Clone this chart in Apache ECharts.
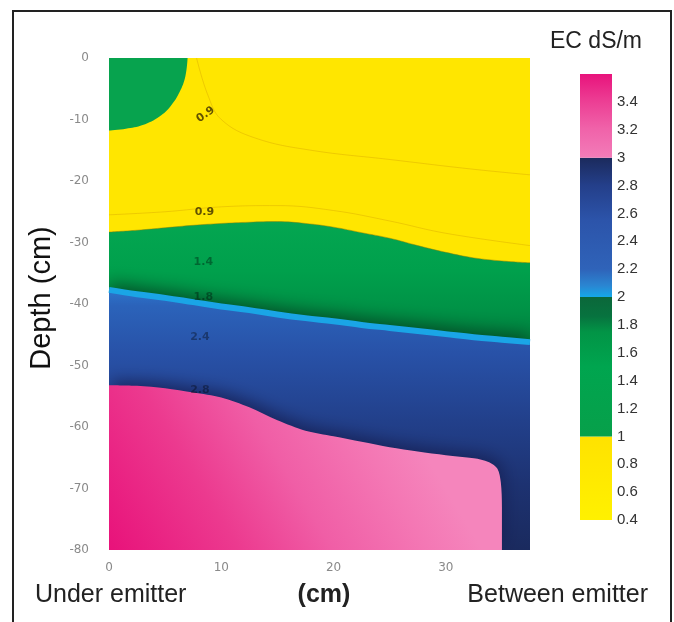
<!DOCTYPE html>
<html>
<head>
<meta charset="UTF-8">
<title>EC dS/m - soil profile</title>
<script src="https://cdn.jsdelivr.net/npm/echarts@6/dist/echarts.min.js"></script>
<style>
    body { margin: 0; background: #fff; }
    #chart { width: 674px; height: 622px; }
</style>
</head>
<body>
<div id="chart"></div>
<script>
    // distance from emitter (cm) where the contour boundaries were read
    const xs = [0, 2.5, 5, 7.5, 10, 12.5, 15, 17.5, 20, 22.5, 25, 27.5, 30, 32.5, 35, 37.5];
    // depth of EC = 1 boundary (yellow above, green below)
    const edge1 = [-28.3, -28.0, -27.6, -27.2, -26.9, -26.7, -26.6, -26.9, -27.5, -28.4, -29.3, -30.5, -31.6, -32.5, -33.0, -33.3];
    // depth of EC = 2 boundary (green above, blue below)
    const edge2 = [-37.7, -38.4, -39.0, -39.7, -40.4, -41.0, -41.7, -42.3, -42.8, -43.4, -43.9, -44.4, -44.9, -45.4, -45.8, -46.2];
    // EC = 3 boundary (pink below), turns down to the bottom near x = 35
    const edge3X = [0, 2.5, 5, 7.5, 10, 12.5, 15, 17.5, 20, 22.5, 25, 27.5, 30, 32.5, 33.8, 34.6, 34.9, 35.0, 35.0];
    const edge3Y = [-53.2, -53.3, -53.7, -54.4, -55.2, -56.8, -58.9, -60.6, -61.5, -62.4, -63.3, -64.0, -64.6, -65.1, -65.7, -66.8, -69.0, -73.0, -80.0];
    // EC > 1 patch at the surface under the emitter
    const blobX = [0, 1.5, 3, 4.5, 5.5, 6.3, 6.8, 7.0];
    const blobY = [-11.8, -11.5, -10.9, -9.5, -7.8, -5.5, -3.0, 0];
    // faint 0.9 isolines inside the yellow zone
    const iso1X = [7.8, 8.8, 10, 13, 18, 25, 32, 37.5];
    const iso1Y = [0, -6, -10, -13, -15, -16.5, -18, -19];
    const iso2X = [0, 5, 10, 15, 20, 25, 30, 37.5];
    const iso2Y = [-25.5, -25.0, -24.2, -24.0, -24.8, -26.5, -28.5, -30.5];
    // contour labels: text, x, depth
    const isoText = ['0.9', '0.9', '1.4', '1.8', '2.4', '2.8'];
    const isoX = [8.6, 8.5, 8.4, 8.4, 8.1, 8.1];
    const isoY = [-9.2, -25.0, -33.2, -38.9, -45.4, -54.0];
    // colour bar levels (EC dS/m)
    const ecLevels = [0.4, 1, 2, 3, 3.6];

    const pts = (X, Y) => X.map((x, i) => [x, Y[i]]);

    // colour ramps of each band, low value first
    const bandStops = [
        [[0, '#FFF100'], [1, '#FFE200']],
        [[0, '#07A04A'], [0.5, '#00A54F'], [0.75, '#029446'], [0.86, '#07733F'], [1, '#0B673A']],
        [[0, '#14A8E8'], [0.08, '#2A86D2'], [0.2, '#2F63B9'], [0.55, '#2C54AA'], [0.8, '#243F8A'], [1, '#1B2A5C']],
        [[0, '#F27CB8'], [0.35, '#F062A9'], [0.7, '#EC3B92'], [1, '#E8137C']]
    ];
    const grad = (stops, x, y, x2, y2) => ({
        type: 'linear', x: x, y: y, x2: x2, y2: y2,
        colorStops: stops.map(s => ({ offset: s[0], color: s[1] }))
    });

    const chart = echarts.init(document.getElementById('chart'));
    const tickLabel = { color: '#8a8a8a', fontSize: 12, fontFamily: 'DejaVu Sans' };
    const plain = { symbol: 'none', silent: true, animation: false };

    const option = {
        animation: false,
        grid: [
            { left: 109, top: 58, right: 144, bottom: 72 },
            { left: 580, top: 74, width: 32, bottom: 102 }
        ],
        xAxis: [
            {
                type: 'value', min: 0, max: 37.5, interval: 10,
                axisLine: { show: false }, axisTick: { show: false }, splitLine: { show: false },
                axisLabel: Object.assign({ margin: 12, showMaxLabel: false }, tickLabel)
            },
            { type: 'category', gridIndex: 1, data: ['EC'], show: false }
        ],
        yAxis: [
            {
                type: 'value', min: -80, max: 0, interval: 10,
                axisLine: { show: false }, axisTick: { show: false }, splitLine: { show: false },
                axisLabel: Object.assign({ margin: 20 }, tickLabel)
            },
            {
                type: 'value', gridIndex: 1, position: 'right', min: 0.4, max: 3.6, interval: 0.2,
                axisLine: { show: false }, axisTick: { show: false }, splitLine: { show: false },
                axisLabel: { margin: 5, color: '#333', fontSize: 15, fontFamily: 'Liberation Sans, Arial', showMaxLabel: false }
            }
        ],
        series: [
            // EC < 1 (yellow) background layer
            Object.assign({
                type: 'line', z: 2, data: xs.map(x => [x, 0]),
                lineStyle: { width: 0 },
                areaStyle: { origin: 'start', color: '#FFE600', opacity: 1 }
            }, plain),
            Object.assign({
                type: 'line', z: 2, smooth: 0.4, data: pts(iso1X, iso1Y),
                lineStyle: { width: 1, color: 'rgba(200,140,0,0.3)' }
            }, plain),
            Object.assign({
                type: 'line', z: 2, smooth: 0.4, data: pts(iso2X, iso2Y),
                lineStyle: { width: 1, color: 'rgba(200,140,0,0.3)' }
            }, plain),
            // 1 - 2 green band
            Object.assign({
                type: 'line', z: 3, smooth: 0.4, data: pts(xs, edge1),
                lineStyle: { width: 1, color: 'rgba(150,120,0,0.45)' },
                areaStyle: { origin: 'start', opacity: 1, color: grad([[0, '#04A651'], [0.15, '#00A04C'], [0.27, '#009246'], [0.4, '#007A3C']], 0, 0, 0, 1) }
            }, plain),
            // 2 - 3 blue band, its shadow darkens the green just above
            Object.assign({
                type: 'line', z: 5, smooth: 0.4, data: pts(xs, edge2),
                lineStyle: { width: 0 },
                areaStyle: {
                    origin: 'start', opacity: 1,
                    color: grad([[0, '#2C74CC'], [0.06, '#2B63BA'], [0.25, '#2851A7'], [0.5, '#22408B'], [0.75, '#1D3271'], [1, '#1A2A5E']], 0, 0, 0, 1),
                    shadowColor: 'rgba(4,70,36,0.95)', shadowBlur: 18, shadowOffsetY: -6
                }
            }, plain),
            // light blue rim of the EC = 2 line
            Object.assign({
                type: 'line', z: 6, smooth: 0.4, data: pts(xs, edge2),
                lineStyle: { width: 6, color: '#1AA5E6', cap: 'butt' }
            }, plain),
            // EC > 3 pink zone, its shadow darkens the blue around it
            Object.assign({
                type: 'line', z: 7, smooth: 0.3, data: pts(edge3X, edge3Y),
                lineStyle: { width: 0 },
                areaStyle: {
                    origin: 'start', opacity: 1,
                    color: grad([[0, '#E8127A'], [0.35, '#EC3A8F'], [0.6, '#F05EA6'], [0.85, '#F477B4'], [1, '#F585BC']], 0, 1, 0.7, 0),
                    shadowColor: 'rgba(22,32,85,0.85)', shadowBlur: 16, shadowOffsetY: -4, shadowOffsetX: 3
                }
            }, plain),
            // surface patch
            Object.assign({
                type: 'line', z: 8, smooth: 0.4, data: pts(blobX, blobY),
                lineStyle: { width: 0 },
                areaStyle: { origin: 'end', opacity: 1, color: '#07A34E' }
            }, plain),
            // contour labels
            {
                type: 'scatter', z: 9, silent: true, symbolSize: 0,
                data: isoText.map((t, i) => ({
                    value: [isoX[i], isoY[i]],
                    label: {
                        show: true, position: 'inside', formatter: t, rotate: i === 0 ? 35 : 0,
                        fontSize: 11, fontWeight: 'bold', fontFamily: 'DejaVu Sans',
                        color: i < 2 ? '#3a2c00' : 'rgba(0,0,0,0.45)'
                    }
                }))
            },
            // colour bar
            {
                type: 'custom', xAxisIndex: 1, yAxisIndex: 1, silent: true,
                data: ecLevels.slice(0, -1).map((lo, i) => [0, lo, ecLevels[i + 1], i]),
                renderItem: (params, api) => {
                    const p0 = api.coord([0, api.value(1)]);
                    const p1 = api.coord([0, api.value(2)]);
                    const w = api.size([1, 0])[0];
                    return {
                        type: 'rect',
                        shape: { x: p0[0] - w / 2, y: p1[1], width: w, height: p0[1] - p1[1] },
                        style: { fill: grad(bandStops[api.value(3)], 0, 1, 0, 0) }
                    };
                }
            }
        ],
        graphic: [
            {
                type: 'rect', silent: true,
                shape: { x: 13, y: 11, width: 658, height: 640 },
                style: { fill: 'none', stroke: '#222', lineWidth: 2 }
            },
            {
                type: 'text', x: 550, y: 42,
                style: { text: 'EC dS/m', fill: '#222', font: '23px "Liberation Sans", Arial', align: 'left', verticalAlign: 'middle' }
            },
            {
                type: 'text', x: 42, y: 298, rotation: Math.PI / 2,
                style: { text: 'Depth (cm)', fill: '#111', font: '29px "Liberation Sans", Arial', align: 'center', verticalAlign: 'middle' }
            },
            {
                type: 'text', x: 35, y: 595,
                style: { text: 'Under emitter', fill: '#222', font: '25px "Liberation Sans", Arial', align: 'left', verticalAlign: 'middle' }
            },
            {
                type: 'text', x: 324, y: 595,
                style: { text: '(cm)', fill: '#222', font: 'bold 25px "Liberation Sans", Arial', align: 'center', verticalAlign: 'middle' }
            },
            {
                type: 'text', x: 648, y: 595,
                style: { text: 'Between emitter', fill: '#222', font: '25px "Liberation Sans", Arial', align: 'right', verticalAlign: 'middle' }
            }
        ]
    };
    chart.setOption(option);
</script>
</body>
</html>
